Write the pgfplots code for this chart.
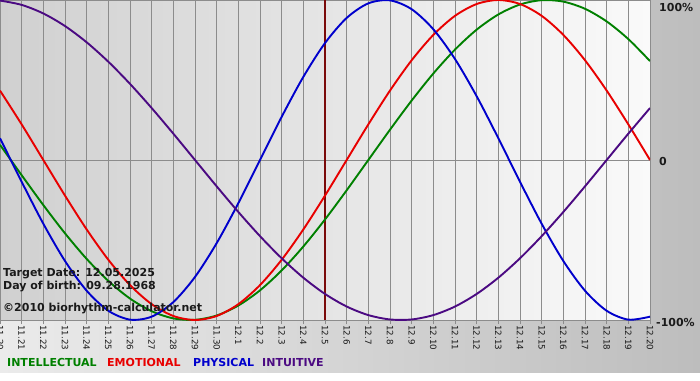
\documentclass[border=0pt]{standalone}
\usepackage{pgfplots}
\pgfplotsset{compat=1.18}
\usepackage{fontspec}
\setmainfont{DejaVu Sans}
\definecolor{bgreen}{HTML}{008000}
\definecolor{bred}{HTML}{E80000}
\definecolor{bblue}{HTML}{0000CC}
\definecolor{bpurple}{HTML}{4B0A82}
\definecolor{gridgray}{HTML}{8C8C8C}
\definecolor{target}{HTML}{7A0A0A}
\definecolor{txt}{HTML}{1A1A1A}
\definecolor{outerL}{HTML}{EBEBEB}
\definecolor{outerR}{HTML}{BDBDBD}
\definecolor{innerL}{HTML}{D0D0D0}
\definecolor{innerR}{HTML}{FAFAFA}

\pgfplotstableread{
d intel emot phys intu
0 0.0951 0.4339 0.1362 0.9966
1 -0.0951 0.2225 -0.1362 0.9694
2 -0.2817 0 -0.3984 0.9158
3 -0.4582 -0.2225 -0.6311 0.8372
4 -0.6182 -0.4339 -0.8170 0.7357
5 -0.7557 -0.6235 -0.9423 0.6142
6 -0.8660 -0.7818 -0.9977 0.4759
7 -0.9450 -0.9010 -0.9791 0.3247
8 -0.9898 -0.9749 -0.8879 0.1646
9 -0.9989 -1 -0.7308 0
10 -0.9718 -0.9749 -0.5196 -0.1646
11 -0.9096 -0.9010 -0.2698 -0.3247
12 -0.8146 -0.7818 0 -0.4759
13 -0.6901 -0.6235 0.2698 -0.6142
14 -0.5406 -0.4339 0.5196 -0.7357
15 -0.3717 -0.2225 0.7308 -0.8372
16 -0.1893 0 0.8879 -0.9158
17 0 0.2225 0.9791 -0.9694
18 0.1893 0.4339 0.9977 -0.9966
19 0.3717 0.6235 0.9423 -0.9966
20 0.5406 0.7818 0.8170 -0.9694
21 0.6901 0.9010 0.6311 -0.9158
22 0.8146 0.9749 0.3984 -0.8372
23 0.9096 1 0.1362 -0.7357
24 0.9718 0.9749 -0.1362 -0.6142
25 0.9989 0.9010 -0.3984 -0.4759
26 0.9898 0.7818 -0.6311 -0.3247
27 0.9450 0.6235 -0.8170 -0.1646
28 0.8660 0.4339 -0.9423 0
29 0.7557 0.2225 -0.9977 0.1646
30 0.6182 0 -0.9791 0.3247
}\bio

\begin{document}
\begin{tikzpicture}
\useasboundingbox (0pt,0pt) rectangle (700pt,380pt);
\fill[white] (0pt,0pt) rectangle (700pt,380pt);
\shade[left color=outerL, right color=outerR] (0pt,8pt) rectangle (700pt,380pt);
\begin{axis}[
  at={(0pt,60pt)}, anchor=south west,
  width=650pt, height=320pt, scale only axis,
  xmin=0, xmax=30, ymin=-1.0, ymax=1.0,
  axis background/.style={shade, left color=innerL, right color=innerR},
  axis line style={draw=gridgray, line width=0.8pt},
  xtick={0,...,30},
  xticklabels={11.20,11.21,11.22,11.23,11.24,11.25,11.26,11.27,11.28,11.29,11.30,12.1,12.2,12.3,12.4,12.5,12.6,12.7,12.8,12.9,12.10,12.11,12.12,12.13,12.14,12.15,12.16,12.17,12.18,12.19,12.20},
  x tick label style={rotate=-90, anchor=west, font=\fontsize{8.7}{9}\selectfont, text=txt, inner sep=1pt},
  xtick pos=lower, tick align=outside, major tick length=4pt,
  xtick style={draw=gridgray, line width=0.8pt},
  ytick={-1,0,1}, yticklabel=\empty, ytick style={draw=none},
  xmajorgrids, ymajorgrids,
  grid style={draw=gridgray, line width=0.8pt},
  clip=true,
]
\addplot[target, line width=2pt] coordinates {(15,-1) (15,1)};
\addplot[bgreen, line width=1.9pt, smooth] table[x=d, y=intel] {\bio};
\addplot[bred, line width=1.9pt, smooth] table[x=d, y=emot] {\bio};
\addplot[bblue, line width=1.9pt, smooth] table[x=d, y=phys] {\bio};
\addplot[bpurple, line width=1.9pt, smooth] table[x=d, y=intu] {\bio};
\end{axis}
\begin{scope}[every node/.style={font=\fontsize{11}{13}\bfseries, inner sep=0pt}]
\node[anchor=base west, text=txt] at (3pt,104pt) {Target Date: 12.05.2025};
\node[anchor=base west, text=txt] at (3pt,91pt) {Day of birth: 09.28.1968};
\node[anchor=base west, text=txt] at (3pt,69pt) {©2010 biorhythm-calculator.net};
\node[anchor=base west, text=txt] at (659pt,368pt) {100\%};
\node[anchor=base west, text=txt] at (659pt,214pt) {0};
\node[anchor=base west, text=txt] at (656pt,54pt) {-100\%};
\node[anchor=base west, text=bgreen] at (7pt,14pt) {INTELLECTUAL};
\node[anchor=base west, text=bred] at (107pt,14pt) {EMOTIONAL};
\node[anchor=base west, text=bblue] at (193pt,14pt) {PHYSICAL};
\node[anchor=base west, text=bpurple] at (262pt,14pt) {INTUITIVE};
\end{scope}
\end{tikzpicture}
\end{document}
